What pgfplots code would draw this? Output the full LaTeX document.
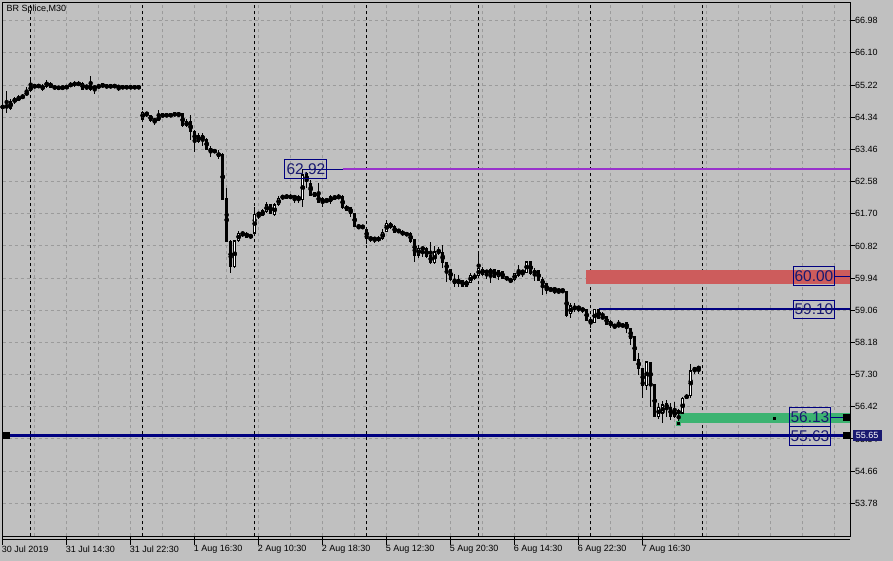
\documentclass[border=0pt]{standalone}
\usepackage{pgfplots}
\pgfplotsset{compat=1.18}
\usepackage{pgfplotstable}
\usepackage{fontspec}
\setmainfont{Liberation Sans}
\definecolor{bgc}{RGB}{192,192,192}
\definecolor{gridc}{RGB}{155,155,155}
\definecolor{navyc}{RGB}{0,0,128}
\definecolor{lblc}{RGB}{25,25,112}
\definecolor{purplec}{RGB}{153,50,204}
\definecolor{redc}{RGB}{205,92,92}
\definecolor{greenc}{RGB}{60,179,113}
\definecolor{pinkc}{RGB}{255,128,192}

\pgfplotstableread{
i o h l c
0 64.67 64.73 64.51 64.57
1 64.62 65.06 64.45 64.65
2 64.59 64.84 64.54 64.76
3 64.76 64.89 64.70 64.84
4 64.81 64.95 64.78 64.89
5 64.86 64.98 64.84 64.93
6 64.95 65.17 64.92 65.03
7 65.07 65.40 65.06 65.19
8 65.19 65.24 65.14 65.18
9 65.21 65.25 65.13 65.18
10 65.19 65.26 65.07 65.11
11 65.18 65.36 65.15 65.30
12 65.27 65.30 65.14 65.15
13 65.17 65.18 65.13 65.14
14 65.15 65.19 65.10 65.14
15 65.14 65.19 65.13 65.15
16 65.15 65.21 65.13 65.17
17 65.18 65.29 65.17 65.26
18 65.21 65.33 65.17 65.29
19 65.28 65.32 65.19 65.22
20 65.11 65.30 65.08 65.27
21 65.18 65.22 65.08 65.17
22 65.21 65.47 65.07 65.10
23 65.13 65.22 64.98 65.18
24 65.17 65.22 65.15 65.19
25 65.26 65.27 65.14 65.17
26 65.19 65.22 65.15 65.18
27 65.19 65.21 65.17 65.18
28 65.19 65.24 65.15 65.19
29 65.17 65.19 65.07 65.17
30 65.16 65.16 65.16 65.16
31 65.16 65.16 65.16 65.16
32 65.16 65.16 65.16 65.16
33 65.16 65.16 65.16 65.16
34 65.16 65.16 65.16 65.16
35 64.29 64.51 64.28 64.48
36 64.47 64.48 64.35 64.40
37 64.40 64.41 64.22 64.25
38 64.26 64.32 64.13 64.25
39 64.26 64.55 64.24 64.37
40 64.35 64.45 64.33 64.43
41 64.40 64.43 64.36 64.39
42 64.36 64.44 64.35 64.43
43 64.43 64.47 64.37 64.41
44 64.43 64.45 64.36 64.41
45 64.44 64.45 64.07 64.10
46 64.21 64.28 64.06 64.10
47 64.21 64.40 63.72 63.95
48 63.96 63.99 63.40 63.67
49 63.67 63.90 63.63 63.83
50 63.72 63.90 63.55 63.85
51 63.73 63.77 63.46 63.47
52 63.48 63.55 63.26 63.40
53 63.42 63.47 63.36 63.40
54 63.36 63.44 63.20 63.27
55 63.31 63.35 62.08 62.10
56 62.12 62.40 60.94 60.94
57 60.93 60.98 60.07 60.25
58 60.25 60.98 60.21 60.96
59 60.96 61.23 60.94 61.17
60 61.17 61.21 61.06 61.15
61 61.17 61.20 61.05 61.06
62 61.09 61.13 61.02 61.09
63 61.17 61.89 61.15 61.69
64 61.69 61.72 61.57 61.71
65 61.64 61.83 61.63 61.78
66 61.76 62.03 61.71 61.94
67 61.94 61.97 61.69 61.72
68 61.67 61.99 61.65 61.94
69 61.94 62.18 61.91 62.12
70 62.16 62.21 62.08 62.16
71 62.13 62.23 62.12 62.20
72 62.20 62.23 62.10 62.12
73 62.16 62.20 62.00 62.15
74 62.16 62.20 62.00 62.10
75 62.08 62.92 61.89 62.76
76 62.80 62.85 62.40 62.58
77 62.54 62.62 62.20 62.21
78 62.27 62.30 62.17 62.18
79 62.21 62.53 61.99 62.00
80 62.00 62.16 61.89 62.12
81 62.08 62.10 62.00 62.06
82 62.03 62.21 61.97 62.17
83 62.10 62.21 62.09 62.18
84 62.16 62.23 62.11 62.15
85 62.16 62.21 61.84 61.86
86 61.91 61.94 61.78 61.80
87 61.87 61.89 61.62 61.71
88 61.71 61.72 61.34 61.35
89 61.36 61.39 61.27 61.35
90 61.35 61.39 61.27 61.34
91 61.27 61.28 60.87 61.03
92 61.04 61.08 60.94 61.01
93 61.01 61.06 60.91 61.02
94 61.05 61.08 60.93 60.97
95 61.01 61.28 60.98 61.20
96 61.21 61.53 61.21 61.44
97 61.43 61.47 61.27 61.33
98 61.34 61.39 61.16 61.18
99 61.24 61.27 61.17 61.23
100 61.21 61.27 61.09 61.12
101 61.17 61.20 61.09 61.11
102 61.17 61.21 60.89 60.94
103 61.00 61.01 60.39 60.57
104 60.57 60.85 60.48 60.75
105 60.76 60.78 60.52 60.74
106 60.75 60.80 60.48 60.52
107 60.57 60.94 60.33 60.36
108 60.36 60.82 60.33 60.66
109 60.65 60.80 60.57 60.67
110 60.63 60.85 60.21 60.36
111 60.38 60.39 59.84 60.14
112 60.18 60.19 59.87 59.91
113 59.90 60.05 59.69 59.78
114 59.78 60.02 59.69 59.89
115 59.87 59.89 59.71 59.72
116 59.72 59.89 59.71 59.86
117 59.81 60.07 59.81 60.02
118 59.94 60.07 59.89 60.01
119 60.00 60.60 59.96 60.21
120 60.18 60.24 60.00 60.05
121 60.12 60.16 59.92 60.11
122 60.07 60.21 59.80 60.18
123 60.18 60.19 59.96 59.96
124 59.98 60.16 59.89 60.14
125 60.11 60.13 59.92 59.93
126 59.94 60.00 59.87 59.93
127 59.90 59.93 59.80 59.87
128 59.89 60.08 59.87 60.07
129 60.02 60.30 59.96 60.14
130 60.11 60.16 59.98 60.12
131 60.09 60.42 60.09 60.39
132 60.39 60.42 60.02 60.07
133 60.07 60.21 59.87 60.14
134 60.14 60.16 59.86 59.87
135 59.91 59.96 59.48 59.75
136 59.78 59.78 59.50 59.59
137 59.64 59.67 59.57 59.63
138 59.64 59.66 59.50 59.63
139 59.61 59.64 59.50 59.60
140 59.61 59.64 59.52 59.60
141 59.57 59.59 58.88 58.93
142 58.96 59.25 58.84 59.18
143 59.16 59.25 59.02 59.09
144 59.14 59.16 59.02 59.12
145 59.11 59.16 59.00 59.05
146 59.08 59.10 58.77 58.77
147 58.81 58.88 58.57 58.72
148 58.72 59.10 58.72 59.09
149 59.09 59.10 58.84 58.84
150 58.88 59.02 58.84 58.85
151 58.88 58.88 58.66 58.68
152 58.75 58.79 58.57 58.66
153 58.64 58.68 58.54 58.63
154 58.67 58.79 58.60 58.63
155 58.61 58.70 58.60 58.68
156 58.72 58.75 58.45 58.57
157 58.57 58.58 58.11 58.29
158 58.34 58.36 57.68 57.70
159 57.72 57.88 57.29 57.47
160 57.47 57.48 56.65 56.99
161 56.99 57.68 56.88 57.65
162 57.63 57.65 56.41 56.99
163 57.02 57.02 56.14 56.15
164 56.15 56.52 56.08 56.41
165 56.24 56.59 55.99 56.47
166 56.50 56.61 56.15 56.38
167 56.41 56.52 56.06 56.15
168 56.15 56.56 56.11 56.31
169 56.31 56.35 55.92 56.24
170 56.24 56.70 56.24 56.65
171 56.65 56.77 56.63 56.74
172 56.72 57.59 56.65 57.41
173 57.47 57.52 57.32 57.43
174 57.45 57.54 57.32 57.52
}\candles

\tikzset{lbl/.style={draw=navyc, line width=1pt, text=lblc, inner sep=0pt,
  minimum width=41pt, minimum height=19pt, font=\fontsize{15.5}{16}\selectfont}}

\begin{document}
\begin{tikzpicture}[x=1pt,y=1pt]
\fill[bgc] (0,0) rectangle (893,561);
\useasboundingbox (0,0) rectangle (893,561);
\begin{axis}[
  at={(2.7pt,24.5pt)}, anchor=south west,
  scale only axis, width=847.6pt, height=533.8pt,
  xmin=0, xmax=211.9, ymin=52.873, ymax=67.472,
  clip mode=individual,
  axis line style={black, line width=1pt},
  xtick pos=left, ytick pos=right, yticklabel pos=right,
  tick align=outside,
  major tick length=4.5pt,
  minor tick length=0pt,
  tick style={black, line width=1pt},
  xtick style={/pgfplots/major tick length=8.5pt},
  xtick={0,16,...,160},
  xticklabels={30 Jul 2019, 31 Jul 14:30, 31 Jul 22:30, 1 Aug 16:30, 2 Aug 10:30, 2 Aug 18:30, 5 Aug 12:30, 5 Aug 20:30, 6 Aug 14:30, 6 Aug 22:30, 7 Aug 16:30},
  minor xtick={8,16,...,208},
  xminorgrids=true, xmajorgrids=false,
  ytick={53.78,54.66,55.54,56.42,57.30,58.18,59.06,59.94,60.82,61.70,62.58,63.46,64.34,65.22,66.10,66.98},
  yticklabels={53.78,54.66,55.54,56.42,57.30,58.18,59.06,59.94,60.82,61.70,62.58,63.46,64.34,65.22,66.10,66.98},
  ymajorgrids=true,
  major grid style={gridc, dash pattern=on 3pt off 3pt, line width=1pt},
  minor grid style={gridc, dash pattern=on 3pt off 3pt, line width=1pt},
  extra x ticks={7,35,63,91,119,147,175},
  extra x tick labels={},
  extra x tick style={xmajorgrids=true, tick style={draw=none},
     major grid style={black, dash pattern=on 3pt off 3pt, line width=1pt}},
  ticklabel style={font=\fontsize{9}{10}\selectfont, inner sep=0pt},
  xticklabel style={anchor=north west, xshift=-1pt, yshift=-4.5pt},
  yticklabel style={anchor=west},
]
% zones
\addplot[fill=redc, draw=none, forget plot] coordinates {(145.8,59.79) (211.9,59.79) (211.9,60.16) (145.8,60.16)} -- cycle;
\addplot[fill=greenc, draw=none, forget plot] coordinates {(168.8,55.99) (211.9,55.99) (211.9,56.25) (168.8,56.25)} -- cycle;
% horizontal lines
\addplot[purplec, line width=2pt] coordinates {(85,62.92) (211.9,62.92)};
\addplot[navyc, line width=1pt] coordinates {(75,62.92) (85,62.92)};
\addplot[navyc, line width=2pt] coordinates {(149,59.10) (211.9,59.10)};
\addplot[navyc, line width=3pt] coordinates {(0,55.64) (211.9,55.64)};
\addplot[navyc, line width=1pt] coordinates {(207.9,59.99) (211.9,59.99)};
\addplot[navyc, line width=1pt] coordinates {(207.1,56.14) (210.8,56.14)};
\addplot[pinkc, line width=1pt] coordinates {(168.9,56.04) (168.9,56.26)};
% candles: wicks
\addplot[only marks, mark=none, error bars/.cd, y dir=both, y explicit, error mark=none,
   error bar style={black, line width=1pt}]
  table[x=i, y expr={(\thisrow{h}+\thisrow{l})/2}, y error expr={(\thisrow{h}-\thisrow{l})/2}] {\candles};
% open/close ticks (dojis)
\addplot[only marks, mark=-, mark size=1.5pt, mark options={line width=1pt, black}] table[x=i, y=c] {\candles};
\addplot[only marks, mark=-, mark size=1.5pt, mark options={line width=1pt, black}] table[x=i, y=o] {\candles};
% bodies
\addplot[only marks, mark=none, error bars/.cd, y dir=both, y explicit, error mark=none,
   error bar style={black, line width=3pt}]
  table[x=i, y expr={(\thisrow{o}+\thisrow{c})/2}, y error expr={abs(\thisrow{o}-\thisrow{c})/2}] {\candles};
\addplot[only marks, mark=none, error bars/.cd, y dir=both, y explicit, error mark=none,
   error bar style={white, line width=1pt}]
  table[x=i, y expr={(\thisrow{o}+\thisrow{c})/2}, y error expr={max((\thisrow{c}-\thisrow{o})/2-0.0274,0)}] {\candles};
% markers
\addplot[only marks, mark=square*, mark size=3pt, black] coordinates {(210.8,56.14) (210.8,55.64) (0.8,55.64)};
\addplot[only marks, mark=square*, mark size=1pt, black] coordinates {(192.9,56.11)};
\addplot[only marks, mark=square*, mark size=2pt, mark options={fill=black, draw=greenc}] coordinates {(168.9,55.97)};
% labels
\node[lbl, minimum width=42pt] at (axis cs:75.8,62.92) {62.92};
\node[lbl] at (axis cs:202.8,59.99) {60.00};
\node[lbl, minimum height=18pt] at (axis cs:202.8,59.09) {59.10};
\node[lbl] at (axis cs:201.8,56.15) {56.13};
\node[lbl] at (axis cs:201.8,55.62) {55.63};
\coordinate (lab) at (axis cs:216.1,55.64);
\end{axis}
\node[fill=lblc, text=white, inner sep=0pt, minimum width=29pt, minimum height=11pt,
  font=\fontsize{9}{10}\selectfont] at (lab) {55.65};
\node[anchor=north west, inner sep=0pt, font=\fontsize{9}{10}\selectfont] at (6.5,556) {BR Splice,M30};
\draw[black, line width=1pt] (2.7,21.5) -- (850.3,21.5);
\end{tikzpicture}
\end{document}
